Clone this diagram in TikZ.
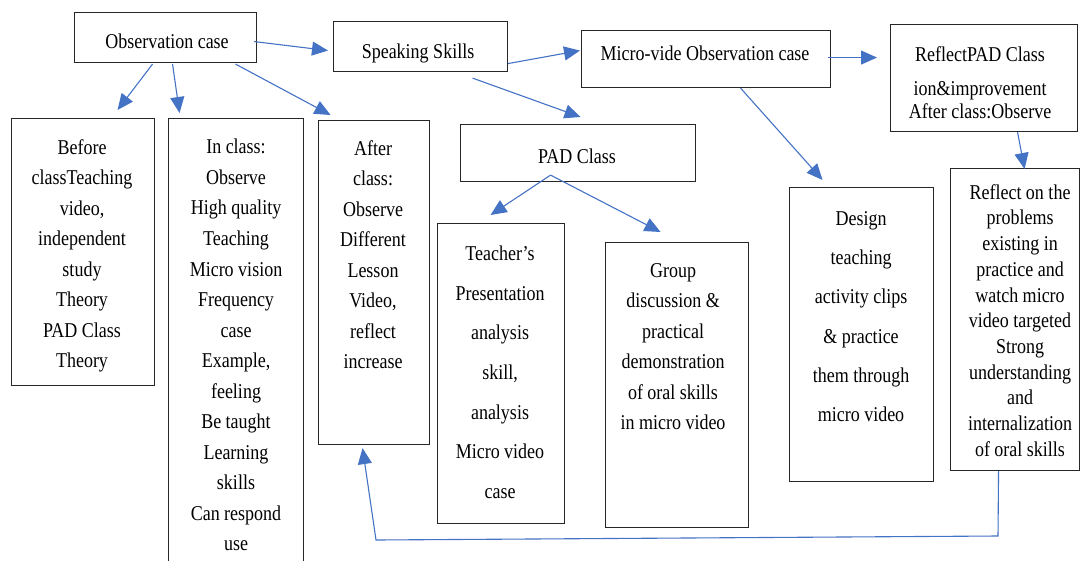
\documentclass[tikz,border=0pt]{standalone}
\usepackage{fontspec}
\setmainfont{Liberation Serif}
\newfontfamily\boxfont{Liberation Serif}
\usepackage{tikz}
\usetikzlibrary{arrows.meta,calc}
\definecolor{linkblue}{HTML}{4472C4}
\tikzset{
  frame/.style={draw=black!85, line width=1.1pt, anchor=north west, inner sep=0pt},
  txt/.style={align=center, inner sep=0pt, yscale=1.17, transform shape, font=\boxfont\fontsize{18}{26.1}\selectfont},
  link/.style={draw=linkblue, line width=1.1pt, -{Triangle[length=16pt,width=14pt]}}
}

\begin{document}
\begin{tikzpicture}[x=1pt,y=-1pt]
\useasboundingbox (0,0) rectangle (1081,560);
\clip (0,0) rectangle (1081,560);
% top row
\node[frame, minimum width=182pt, minimum height=50pt] (obs) at (74,12) {};
\node[frame, minimum width=174pt, minimum height=50pt] (spk) at (333,21) {};
\node[frame, minimum width=249pt, minimum height=57pt] (mvo) at (581,30) {};
\node[frame, minimum width=187pt, minimum height=107pt] (rfl) at (890,24) {};
\node[frame, minimum width=235pt, minimum height=57pt] (pad) at (460,124) {};
\node[txt] (obs-t) at (167,41) {Observation case};
\node[txt] (spk-t) at (418,53) {Speaking Skills};
\node[txt] (mvo-t) at (705,53) {Micro-vide Observation case};
\node[txt] (pad-t) at (577,156) {PAD Class};
\node[txt, anchor=north, font=\boxfont\fontsize{18}{19.7}\selectfont] (rfl-t) at (980,46) {ReflectPAD Class\\[9.4pt]ion\&improvement\\After class:Observe};
% columns
\node[frame, minimum width=143pt, minimum height=267pt] (before) at (11,118) {};
\node[frame, minimum width=135pt, minimum height=457pt] (inclass) at (168,118) {};
\node[frame, minimum width=111pt, minimum height=324pt] (after) at (318,120) {};
\node[frame, minimum width=127pt, minimum height=300pt] (teacher) at (437,223) {};
\node[frame, minimum width=143pt, minimum height=285pt] (group) at (605,242) {};
\node[frame, minimum width=144pt, minimum height=294pt] (design) at (789,187) {};
\node[frame, minimum width=129pt, minimum height=302pt] (refl) at (950,168) {};
\node[txt, anchor=north] (before-t) at (82,139) {Before\\classTeaching\\video,\\independent\\study\\Theory\\PAD Class\\Theory};
\node[txt, anchor=north] (inclass-t) at (236,139) {In class:\\Observe\\High quality\\Teaching\\Micro vision\\Frequency\\case\\Example,\\feeling\\Be taught\\Learning\\skills\\Can respond\\use};
\node[txt, anchor=north] (after-t) at (373,140) {After\\class:\\Observe\\Different\\Lesson\\Video,\\reflect\\increase};
\node[txt, anchor=north, font=\boxfont\fontsize{18}{33.8}\selectfont] (teacher-t) at (500,246) {Teacher’s\\Presentation\\analysis\\skill,\\analysis\\Micro video\\case};
\node[txt, anchor=north] (group-t) at (673,263) {Group\\discussion \&\\practical\\demonstration\\of oral skills\\in micro video};
\node[txt, anchor=north, font=\boxfont\fontsize{18}{33.6}\selectfont] (design-t) at (861,211) {Design\\teaching\\activity clips\\\& practice\\them through\\micro video};
\node[txt, anchor=north, font=\boxfont\fontsize{18}{22}\selectfont] (refl-t) at (1020,184) {Reflect on the\\problems\\existing in\\practice and\\watch micro\\video targeted\\Strong\\understanding\\and\\internalization\\of oral skills};
% connectors
\draw[link] ([xshift=-3pt,yshift=-4pt]obs.east) -- ([xshift=-5pt,yshift=-4pt]spk.west);
\draw[link] ([xshift=-13pt,yshift=-1pt]obs.south) -- ([xshift=34.5pt,yshift=8pt]before.north);
\draw[link] ([xshift=7pt,yshift=-1pt]obs.south) -- ([xshift=-56.5pt,yshift=5pt]inclass.north);
\draw[link] ([xshift=70pt,yshift=-1pt]obs.south) -- ([xshift=-43.5pt,yshift=5pt]after.north);
\draw[link] ([yshift=-17pt]spk.east) -- ([xshift=-1pt,yshift=8.5pt]mvo.west);
\draw[link] ([xshift=52pt,yshift=-6pt]spk.south) -- ([xshift=2.5pt,yshift=7pt]pad.north);
\draw[link] ([xshift=-3pt,yshift=1.5pt]mvo.east) -- ([xshift=-13pt,yshift=20.5pt]rfl.west);
\draw[link] ([xshift=34.5pt]mvo.south) -- ([xshift=-39pt,yshift=7pt]design.north);
\draw[link] ([xshift=33.5pt]rfl.south) -- ([xshift=9.5pt,yshift=-1pt]refl.north);
\draw[link] ([xshift=-27.5pt,yshift=7pt]pad.south) -- ([xshift=-10.5pt,yshift=8pt]teacher.north);
\draw[link] ([xshift=-27.5pt,yshift=7pt]pad.south) -- ([xshift=-16.5pt,yshift=10pt]group.north);
\coordinate (loopR) at (998,536);
\coordinate (loopL) at (376,540);
\draw[link] ([xshift=-16.5pt]refl.south) -- (loopR) -- (loopL) -- ([xshift=-11.5pt,yshift=-3pt]after.south);
\end{tikzpicture}
\end{document}
